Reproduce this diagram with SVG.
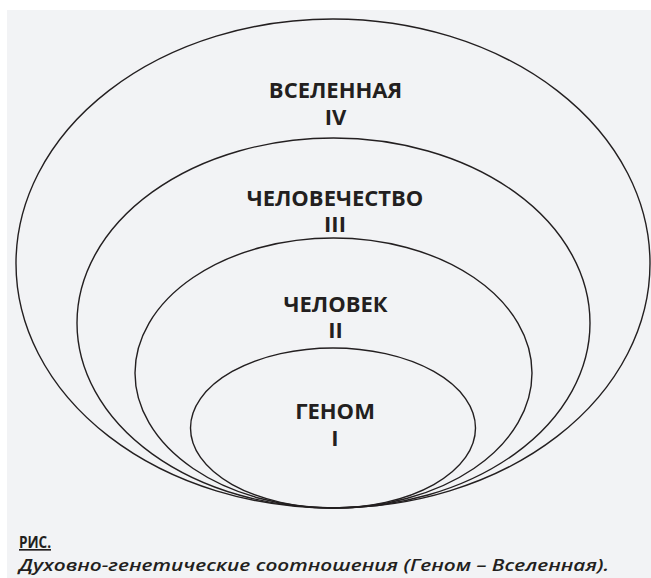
<svg xmlns="http://www.w3.org/2000/svg" width="651" height="578" viewBox="0 0 651 578">
<style>
.ring{fill:none;stroke:#231f20;stroke-width:1.4}
.lbl{font-family:"Open Sans","Noto Sans",sans-serif;font-weight:700;font-size:22px;fill:#231f20;text-anchor:middle}
.cap{font-family:"Open Sans","Noto Sans",sans-serif;fill:#231f20}
</style>
<rect x="0" y="0" width="651" height="578" fill="#ffffff"/>
<rect x="7" y="10" width="644" height="568" fill="#f2f3f5"/>
<g id="connectors"></g>
<g id="universe">
<ellipse class="ring" cx="333" cy="263.5" rx="317" ry="244.5"/>
<text class="lbl" x="335.5" y="98">ВСЕЛЕННАЯ</text>
<text class="lbl" x="335.5" y="125">IV</text>
</g>
<g id="humanity">
<ellipse class="ring" cx="333.5" cy="323" rx="256.5" ry="185"/>
<text class="lbl" x="335" y="206">ЧЕЛОВЕЧЕСТВО</text>
<text class="lbl" x="335" y="232">III</text>
</g>
<g id="human">
<ellipse class="ring" cx="333.5" cy="373" rx="198.5" ry="135"/>
<text class="lbl" x="335.5" y="312">ЧЕЛОВЕК</text>
<text class="lbl" x="335.5" y="338">II</text>
</g>
<g id="genome">
<ellipse class="ring" cx="333" cy="428" rx="142.5" ry="80"/>
<text class="lbl" x="335" y="419">ГЕНОМ</text>
<text class="lbl" x="335" y="446">I</text>
</g>
<g id="caption">
<text class="cap" x="19" y="548" font-size="16.5" font-weight="700" text-decoration="underline" textLength="32" lengthAdjust="spacingAndGlyphs">РИС.</text>
<text class="cap" x="19" y="571" font-size="17" font-weight="600" font-style="italic" textLength="590" lengthAdjust="spacingAndGlyphs">Духовно-генетические соотношения (Геном – Вселенная).</text>
</g>
</svg>
